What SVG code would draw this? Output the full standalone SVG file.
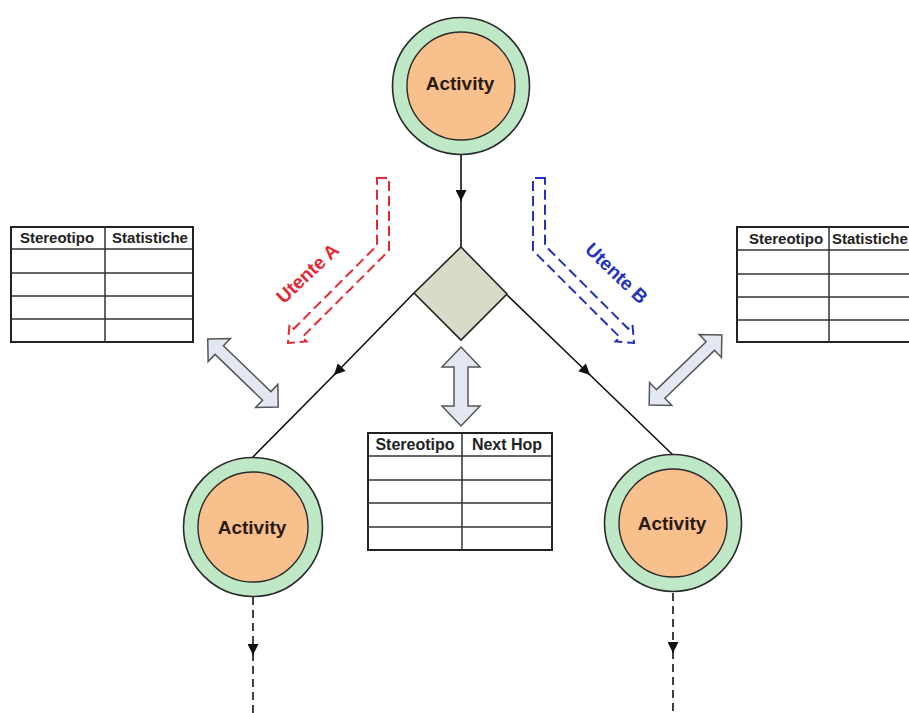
<svg xmlns="http://www.w3.org/2000/svg" width="909" height="713" viewBox="0 0 909 713">
<style>
.outer{fill:#bfe8c6;stroke:#2a2a2a;stroke-width:1.6}
.inner{fill:#f8c08d;stroke:#2a2a2a;stroke-width:1.4}
.act{font-family:"Liberation Sans",Arial,sans-serif;font-weight:bold;font-size:19px;fill:#2b1a12;text-anchor:middle}
.tbl{fill:#fff;stroke:#222;stroke-width:2}
.tl{stroke:#333;stroke-width:1.5}
.th{font-family:"Liberation Sans",Arial,sans-serif;font-weight:bold;font-size:15px;fill:#222;text-anchor:middle}
.conn{stroke:#111;stroke-width:1.6;fill:none}
.dash{stroke:#111;stroke-width:1.6;fill:none;stroke-dasharray:8 5}
.dbl{fill:#e3e8f3;stroke:#555;stroke-width:1.5}
.ua{fill:none;stroke:#e02a35;stroke-width:2;stroke-dasharray:10 5}
.ub{fill:none;stroke:#2233bb;stroke-width:2;stroke-dasharray:10 5}
.lbl{font-family:"Liberation Sans",Arial,sans-serif;font-weight:bold;font-size:19px;text-anchor:middle}
</style>
<defs>
<marker id="ah" viewBox="0 0 10 10" refX="10" refY="5" markerWidth="12" markerHeight="11" markerUnits="userSpaceOnUse" orient="auto">
<path d="M0,0 L10,5 L0,10 Z" fill="#111"/>
</marker>
<path id="bend" d="M377,178 L389,178 L389,250.5 L302.2,337.2 L306.5,341.5 L288,343 L289.5,324.5 L293.8,328.8 L377,245.5 Z"/>
</defs>
<rect width="909" height="713" fill="#fff"/>

<g id="connectors">
<line class="conn" x1="461" y1="155" x2="461" y2="201" marker-end="url(#ah)"/>
<line class="conn" x1="461" y1="199" x2="461" y2="248"/>
<line class="conn" x1="414" y1="293" x2="334" y2="375" marker-end="url(#ah)"/>
<line class="conn" x1="336" y1="373" x2="251" y2="459"/>
<line class="conn" x1="507" y1="295" x2="590" y2="375" marker-end="url(#ah)"/>
<line class="conn" x1="588" y1="373" x2="673" y2="455"/>
<line class="dash" x1="253" y1="597" x2="253" y2="655" marker-end="url(#ah)"/>
<line class="dash" x1="253" y1="653" x2="253" y2="713"/>
<line class="dash" x1="673" y1="593" x2="673" y2="653" marker-end="url(#ah)"/>
<line class="dash" x1="673" y1="651" x2="673" y2="713"/>
</g>

<g id="activity-top">
<circle class="outer" cx="461" cy="86" r="68.5"/>
<circle class="inner" cx="461" cy="86" r="54"/>
<text class="act" x="460" y="90">Activity</text>
</g>

<g id="decision">
<polygon points="461,247 507,294 461,340 414,293" fill="#d8dbc8" stroke="#222" stroke-width="1.6"/>
</g>

<g id="activity-left">
<circle class="outer" cx="253" cy="527" r="69.5"/>
<circle class="inner" cx="253" cy="527" r="55"/>
<text class="act" x="252" y="534">Activity</text>
</g>

<g id="activity-right">
<circle class="outer" cx="673" cy="523" r="68.5"/>
<circle class="inner" cx="673" cy="523" r="54"/>
<text class="act" x="672" y="530">Activity</text>
</g>

<g id="utente-a">
<use href="#bend" class="ua"/>
<text class="lbl" fill="#e02a35" transform="translate(312,278) rotate(-43)">Utente A</text>
</g>

<g id="utente-b">
<use href="#bend" class="ub" transform="translate(922,0) scale(-1,1)"/>
<text class="lbl" fill="#2233bb" transform="translate(612,278) rotate(44)">Utente B</text>
</g>

<g id="table-left">
<rect class="tbl" x="11" y="227" width="182" height="115"/>
<line class="tl" x1="105" y1="227" x2="105" y2="342"/>
<line class="tl" x1="11" y1="249" x2="193" y2="249"/>
<line class="tl" x1="11" y1="273" x2="193" y2="273"/>
<line class="tl" x1="11" y1="296" x2="193" y2="296"/>
<line class="tl" x1="11" y1="319" x2="193" y2="319"/>
<text class="th" x="57" y="243">Stereotipo</text>
<text class="th" x="150" y="243">Statistiche</text>
</g>

<g id="table-right">
<rect class="tbl" x="737" y="227" width="185" height="115"/>
<line class="tl" x1="829" y1="227" x2="829" y2="342"/>
<line class="tl" x1="737" y1="250" x2="922" y2="250"/>
<line class="tl" x1="737" y1="274" x2="922" y2="274"/>
<line class="tl" x1="737" y1="297" x2="922" y2="297"/>
<line class="tl" x1="737" y1="320" x2="922" y2="320"/>
<text class="th" x="786" y="244">Stereotipo</text>
<text class="th" x="832" y="244" style="text-anchor:start">Statistiche</text>
</g>

<g id="table-middle">
<rect class="tbl" x="368" y="433" width="184" height="117"/>
<line class="tl" x1="462" y1="433" x2="462" y2="550"/>
<line class="tl" x1="368" y1="456" x2="552" y2="456"/>
<line class="tl" x1="368" y1="480" x2="552" y2="480"/>
<line class="tl" x1="368" y1="503" x2="552" y2="503"/>
<line class="tl" x1="368" y1="527" x2="552" y2="527"/>
<text class="th" x="415" y="450" style="font-size:16px">Stereotipo</text>
<text class="th" x="507" y="450" style="font-size:16px">Next Hop</text>
</g>

<g id="link-left">
<path class="dbl" transform="translate(243,373) rotate(44)" d="M-49,0 L-33,-16 L-33,-6 L33,-6 L33,-16 L49,0 L33,16 L33,6 L-33,6 L-33,16 Z"/>
</g>
<g id="link-middle">
<path class="dbl" transform="translate(461,386.5) rotate(90)" d="M-39.5,0 L-19.5,-19 L-19.5,-7 L19.5,-7 L19.5,-19 L39.5,0 L19.5,19 L19.5,7 L-19.5,7 L-19.5,19 Z"/>
</g>
<g id="link-right">
<path class="dbl" transform="translate(685.5,370) rotate(-44)" d="M-50.5,0 L-34.5,-16 L-34.5,-6 L34.5,-6 L34.5,-16 L50.5,0 L34.5,16 L34.5,6 L-34.5,6 L-34.5,16 Z"/>
</g>
</svg>
